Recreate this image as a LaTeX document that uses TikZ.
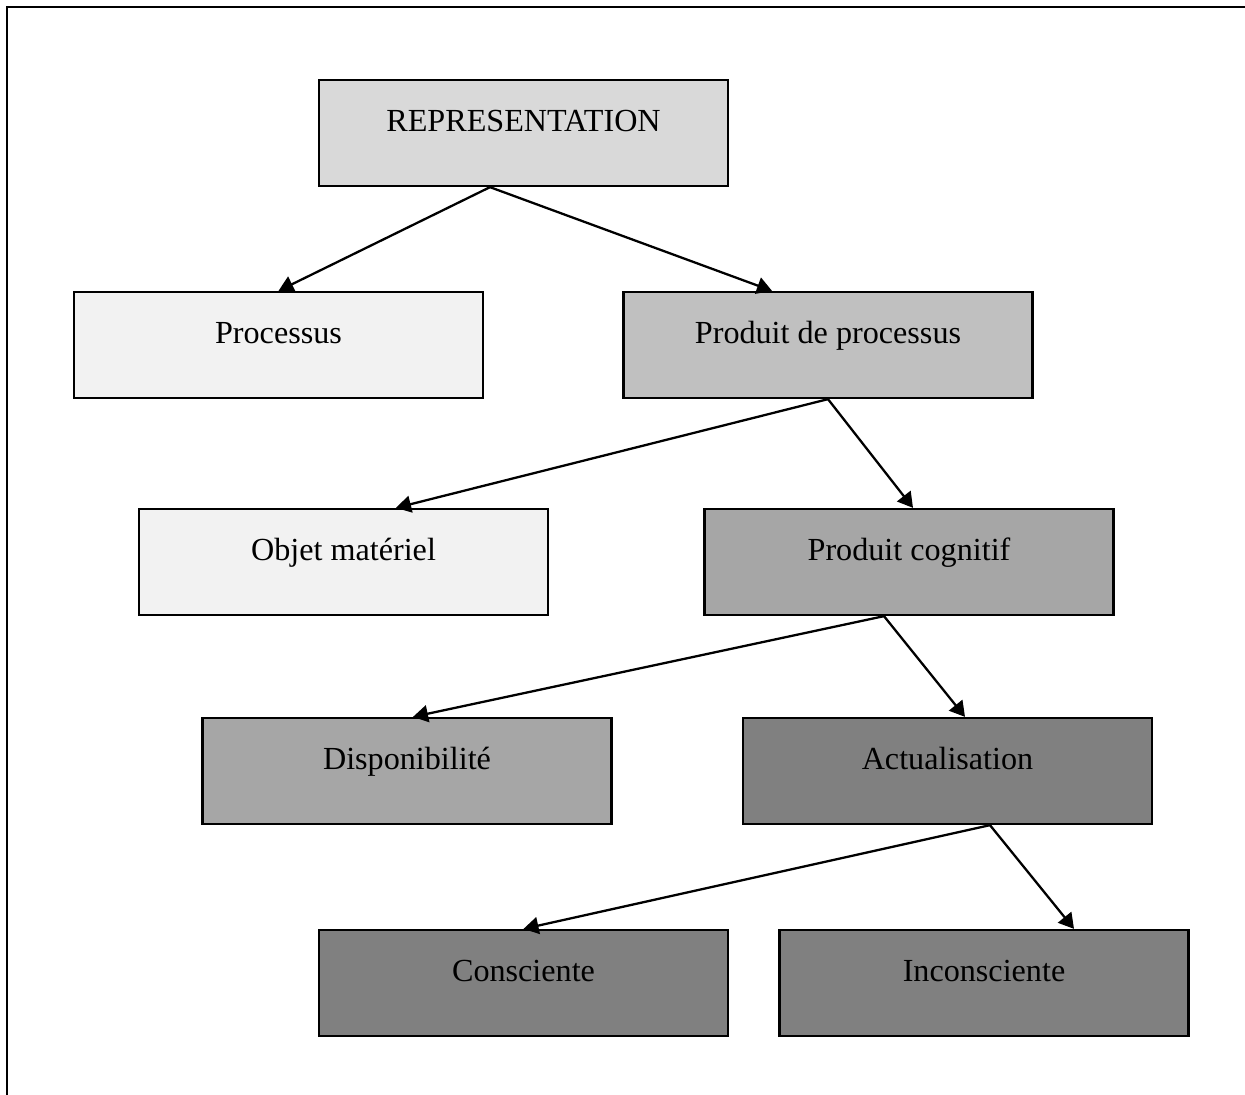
\documentclass[tikz,border=0pt]{standalone}
\usepackage{fontspec}
\setmainfont{Liberation Serif}
\usetikzlibrary{arrows.meta}
\definecolor{grisA}{HTML}{F2F2F2}
\definecolor{grisB}{HTML}{D9D9D9}
\definecolor{grisC}{HTML}{C0C0C0}
\definecolor{grisD}{HTML}{A6A6A6}
\definecolor{grisE}{HTML}{808080}
\begin{document}
\begin{tikzpicture}
			\tikzstyle{BOX}=[rectangle,draw=black,line width=1.3pt,inner sep=0pt,
			minimum width=8.18cm,minimum height=2.12cm,
			text height=1.02cm,text depth=1.10cm,font=\fontsize{18.3}{22}\selectfont]
			\tikzstyle{FL}=[line width=1.3pt,-{Triangle[length=0.3cm,width=0.34cm]}]
			\useasboundingbox (0,0) rectangle (24.9,-21.9);
			\draw[line width=1.6pt] (0.14,-21.9) -- (0.14,-0.14) -- (24.9,-0.14);
			\begin{scope}
			\node[BOX,fill=grisB] (rep)    at (10.47,-2.66)  {REPRESENTATION};
			\node[BOX,fill=grisA] (proc)   at (5.57,-6.90)   {Processus};
			\node[BOX,fill=grisC] (prod)   at (16.56,-6.90)  {Produit de processus};
			\node[BOX,fill=grisA] (obj)    at (6.87,-11.24)  {Objet matériel};
			\node[BOX,fill=grisD] (cog)    at (18.18,-11.24) {Produit cognitif};
			\node[BOX,fill=grisD] (dispo)  at (8.14,-15.42)  {Disponibilité};
			\node[BOX,fill=grisE] (actu)   at (18.95,-15.42) {Actualisation};
			\node[BOX,fill=grisE] (consc)  at (10.47,-19.66) {Consciente};
			\node[BOX,fill=grisE] (incons) at (19.68,-19.66) {Inconsciente};
			\end{scope}
			
			\path[FL]
			([xshift=-0.67cm]rep.south) edge (proc.north)
			([xshift=-0.67cm]rep.south) edge ([xshift=-1.12cm]prod.north)
			(prod.south) edge ([xshift=1.05cm]obj.north)
			(prod.south) edge ([xshift=0.08cm]cog.north)
			([xshift=-0.50cm]cog.south) edge ([xshift=0.12cm]dispo.north)
			([xshift=-0.50cm]cog.south) edge ([xshift=0.35cm]actu.north)
			([xshift=0.85cm]actu.south) edge (consc.north)
			([xshift=0.85cm]actu.south) edge ([xshift=1.80cm]incons.north)
			;
		\end{tikzpicture}
\end{document}
